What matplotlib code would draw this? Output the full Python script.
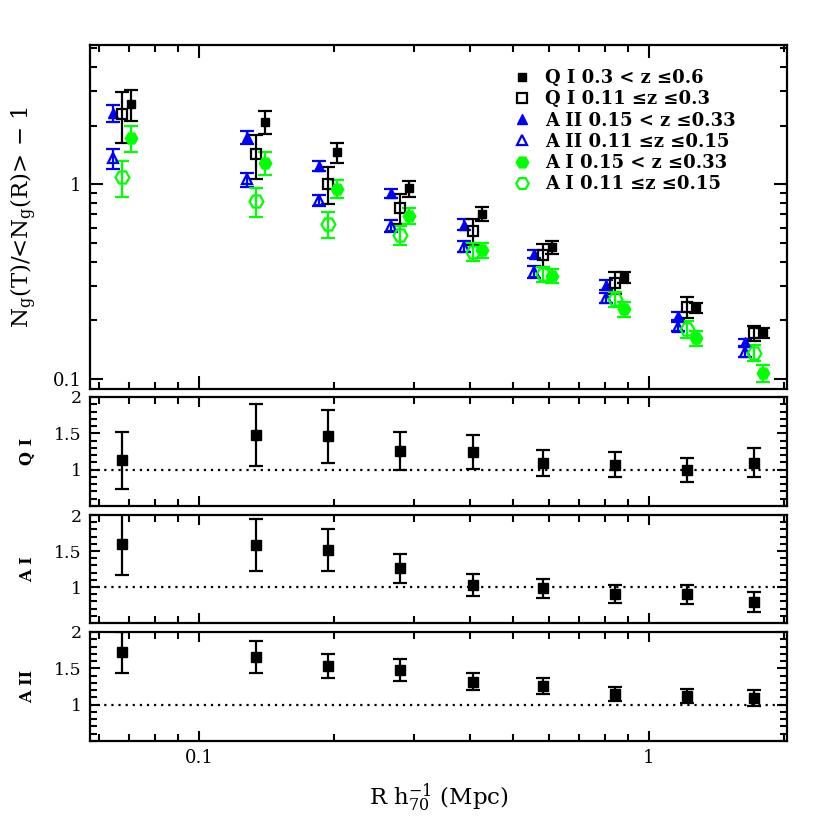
import matplotlib
matplotlib.use('Agg')
import matplotlib.pyplot as plt
from matplotlib.lines import Line2D
from matplotlib.ticker import FixedLocator, NullFormatter, MultipleLocator

plt.rcParams['font.family'] = ['DejaVu Serif']
plt.rcParams['mathtext.fontset'] = 'dejavuserif'

# radii (Mpc) for each bin
R = [0.0674, 0.1339, 0.1939, 0.280, 0.406, 0.583, 0.841, 1.218, 1.718]

# top panel: N_g(T)/<N_g(R)> - 1
qi_hi = [2.59, 2.10, 1.46, 0.955, 0.705, 0.476, 0.333, 0.233, 0.173]
qi_hi_err = [0.48, 0.29, 0.17, 0.09, 0.06, 0.035, 0.023, 0.014, 0.010]
qi_lo = [2.31, 1.43, 1.01, 0.76, 0.575, 0.435, 0.313, 0.235, 0.172]
qi_lo_err = [0.67, 0.37, 0.22, 0.134, 0.087, 0.06, 0.04, 0.029, 0.015]
aii_hi = [2.32, 1.75, 1.245, 0.90, 0.62, 0.44, 0.304, 0.211, 0.154]
aii_hi_err = [0.24, 0.13, 0.08, 0.05, 0.04, 0.02, 0.018, 0.010, 0.007]
aii_lo = [1.36, 1.06, 0.83, 0.61, 0.479, 0.356, 0.26, 0.186, 0.138]
aii_lo_err = [0.16, 0.09, 0.055, 0.043, 0.032, 0.024, 0.015, 0.010, 0.008]
ai_hi = [1.73, 1.29, 0.95, 0.689, 0.46, 0.34, 0.229, 0.162, 0.107]
ai_hi_err = [0.27, 0.17, 0.10, 0.065, 0.04, 0.029, 0.021, 0.015, 0.011]
ai_lo = [1.09, 0.82, 0.626, 0.55, 0.45, 0.347, 0.257, 0.18, 0.136]
ai_lo_err = [0.23, 0.14, 0.093, 0.063, 0.047, 0.031, 0.024, 0.018, 0.013]

# ratio panels
qi_ratio = [1.13, 1.476, 1.458, 1.256, 1.243, 1.094, 1.07, 0.996, 1.094]
qi_ratio_err = [0.39, 0.43, 0.36, 0.26, 0.23, 0.18, 0.17, 0.16, 0.20]
ai_ratio = [1.598, 1.588, 1.518, 1.262, 1.024, 0.98, 0.898, 0.898, 0.795]
ai_ratio_err = [0.43, 0.36, 0.29, 0.20, 0.15, 0.13, 0.125, 0.13, 0.14]
aii_ratio = [1.718, 1.653, 1.533, 1.48, 1.315, 1.26, 1.149, 1.12, 1.093]
aii_ratio_err = [0.28, 0.22, 0.17, 0.15, 0.115, 0.11, 0.095, 0.10, 0.105]

labels = ['Q I 0.3 < z \u22640.6', 'Q I 0.11 \u2264z \u22640.3',
          'A II 0.15 < z \u22640.33', 'A II 0.11 \u2264z \u22640.15',
          'A I 0.15 < z \u22640.33', 'A I 0.11 \u2264z \u22640.15']

fig = plt.figure(figsize=(8.3, 8.3), dpi=100)
L, W = 0.1084, 0.8398
ax0 = fig.add_axes([L, 0.5313, W, 0.4145])
ax1 = fig.add_axes([L, 0.3904, W, 0.1313])
ax2 = fig.add_axes([L, 0.2494, W, 0.1301])
ax3 = fig.add_axes([L, 0.1072, W, 0.1314])

left = [r * 0.955 for r in R]
right = [r * 1.047 for r in R]

ekw = dict(ls='none', elinewidth=1.6, capthick=1.6, capsize=4.8)
ax0.errorbar(left, aii_hi, yerr=aii_hi_err, marker='^', ms=7.5, color='blue', **ekw)
ax0.errorbar(left, aii_lo, yerr=aii_lo_err, marker='^', ms=7.5, color='blue', mfc='none', mew=1.6, **ekw)
ax0.errorbar(R, qi_lo, yerr=qi_lo_err, marker='s', ms=6.5, color='black', mfc='none', mew=1.6, **ekw)
ax0.errorbar(right, qi_hi, yerr=qi_hi_err, marker='s', ms=6, color='black', **ekw)
ax0.errorbar(right, ai_hi, yerr=ai_hi_err, marker='H', ms=9, color='#00ff00', **ekw)
ax0.errorbar(R, ai_lo, yerr=ai_lo_err, marker='H', ms=10, color='#00ff00', mfc='none', mew=1.6, **ekw)

handles = [Line2D([], [], ls='none', marker='s', ms=6, color='black'),
           Line2D([], [], ls='none', marker='s', ms=6.5, color='black', mfc='none', mew=1.6),
           Line2D([], [], ls='none', marker='^', ms=7.5, color='blue'),
           Line2D([], [], ls='none', marker='^', ms=7.5, color='blue', mfc='none', mew=1.6),
           Line2D([], [], ls='none', marker='H', ms=9, color='#00ff00'),
           Line2D([], [], ls='none', marker='H', ms=9, color='#00ff00', mfc='none', mew=1.6)]
ax0.legend(handles, labels, loc='upper left', bbox_to_anchor=(0.607, 0.93), frameon=False,
           prop={'size': 13, 'weight': 'bold'}, handlelength=1.0, handletextpad=0.75,
           labelspacing=0.18, borderpad=0, borderaxespad=0)

ax0.set_yscale('log')
ax0.set_ylim(0.0888, 5.2)
ax0.yaxis.set_major_locator(FixedLocator([0.1, 1]))
ax0.set_yticklabels(['0.1', '1'])
ax0.yaxis.set_minor_locator(FixedLocator([0.2, 0.3, 0.4, 0.5, 0.6, 0.7, 0.8, 0.9, 2, 3, 4, 5]))
ax0.yaxis.set_minor_formatter(NullFormatter())
ax0.set_ylabel(r'N$_{\rm g}$(T)/<N$_{\rm g}$(R)> $-$ 1', fontsize=16.5, labelpad=10)

ratios = [(ax1, qi_ratio, qi_ratio_err, 'Q I'),
          (ax2, ai_ratio, ai_ratio_err, 'A I'),
          (ax3, aii_ratio, aii_ratio_err, 'A II')]
for ax, vals, errs, name in ratios:
    ax.errorbar(R, vals, yerr=errs, marker='s', ms=6.5, color='black', **ekw)
    ax.axhline(1, color='black', ls=(0, (1, 2.2)), lw=1.6)
    ax.set_ylim(0.5, 2)
    ax.set_yticks([1, 1.5, 2])
    ax.set_yticklabels(['1', '1.5', '2'])
    ax.yaxis.set_minor_locator(MultipleLocator(0.1))
    ax.set_ylabel(name, fontsize=11.5, fontweight='bold', labelpad=13)

for ax in [ax0, ax1, ax2, ax3]:
    ax.set_xscale('log')
    ax.set_xlim(0.0572, 2.03)
    ax.xaxis.set_major_locator(FixedLocator([0.1, 1]))
    ax.xaxis.set_minor_locator(FixedLocator([0.06, 0.07, 0.08, 0.09, 0.2, 0.3, 0.4, 0.5,
                                             0.6, 0.7, 0.8, 0.9, 2]))
    ax.xaxis.set_minor_formatter(NullFormatter())
    ax.tick_params(which='both', direction='in', top=True, right=True, width=1.5, labelsize=13)
    ax.tick_params(which='major', length=9.5, pad=6)
    ax.tick_params(which='minor', length=4.8)
    for s in ax.spines.values():
        s.set_linewidth(1.6)
    if ax is not ax3:
        ax.set_xticklabels([])

for ax in [ax1, ax2, ax3]:
    ax.tick_params(which='major', length=7)
    ax.tick_params(axis='y', labelsize=12.5)

ax3.set_xticklabels(['0.1', '1'])
ax3.set_xlabel(r'R h$_{70}^{-1}$ (Mpc)', fontsize=16.5, labelpad=10)

fig.savefig('out.png', dpi=100)
